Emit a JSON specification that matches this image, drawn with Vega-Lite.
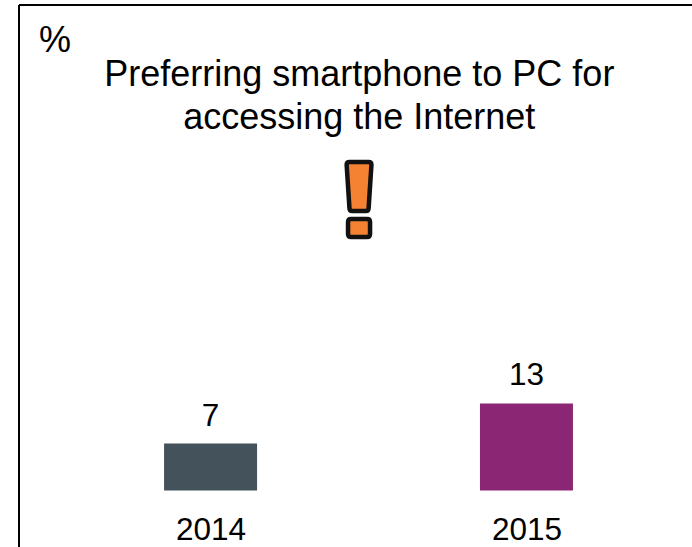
{
  "$schema": "https://vega.github.io/schema/vega-lite/v6.json",
  "width": 673.5,
  "height": 542.5,
  "autosize": "none",
  "padding": {"left": 18.5, "top": 4.5, "right": 0, "bottom": 0},
  "background": "white",
  "config": {
    "view": {"stroke": null},
    "font": "Liberation Sans"
  },
  "title": {
    "text": ["Preferring smartphone to PC for", "accessing the Internet"],
    "font": "Liberation Sans",
    "fontSize": 36,
    "fontWeight": "normal",
    "color": "black",
    "lineHeight": 43,
    "anchor": "middle",
    "dx": 4,
    "baseline": "alphabetic",
    "offset": -160
  },
  "datasets": {
    "share": [
      {"year": 2014, "percent": 7, "color": "#44525C"},
      {"year": 2015, "percent": 13, "color": "#8B2674"}
    ],
    "alert": [{"year": 2014.47, "percent": 43.36}]
  },
  "layer": [
    {
      "data": {"name": "share"},
      "mark": {"type": "bar", "width": 93},
      "encoding": {
        "x": {
          "field": "year",
          "type": "quantitative",
          "scale": {"domain": [2013.392, 2015.524], "nice": false, "zero": false, "padding": 0},
          "axis": {
            "orient": "top",
            "title": null,
            "values": [2014, 2015],
            "format": "d",
            "grid": false,
            "ticks": false,
            "domain": true,
            "domainColor": "black",
            "domainWidth": 2,
            "labelFont": "Liberation Sans",
            "labelFontSize": 31.5,
            "labelColor": "black",
            "labelPadding": -542,
            "labelFlush": false,
            "labelOverlap": false
          }
        },
        "y": {
          "field": "percent",
          "type": "quantitative",
          "scale": {"domain": [-8.43, 72.54], "nice": false, "zero": false},
          "axis": {
            "orient": "left",
            "title": "%",
            "titleFont": "Liberation Sans",
            "titleFontSize": 36,
            "titleFontWeight": "normal",
            "titleColor": "black",
            "titleAngle": 0,
            "titleAlign": "center",
            "titleBaseline": "alphabetic",
            "titleX": 36,
            "titleY": 47,
            "grid": false,
            "ticks": false,
            "labels": false,
            "domain": true,
            "domainColor": "black",
            "domainWidth": 2
          }
        },
        "color": {"field": "color", "type": "nominal", "scale": null}
      }
    },
    {
      "data": {"name": "share"},
      "mark": {
        "type": "text",
        "baseline": "alphabetic",
        "align": "center",
        "fontSize": 31.5,
        "color": "black",
        "dy": -18
      },
      "encoding": {
        "x": {"field": "year", "type": "quantitative"},
        "y": {"field": "percent", "type": "quantitative"},
        "text": {"field": "percent", "type": "quantitative"}
      }
    },
    {
      "data": {"name": "alert"},
      "mark": {
        "type": "point",
        "filled": true,
        "opacity": 1,
        "fill": "#F58233",
        "stroke": "#111111",
        "strokeWidth": 4.5,
        "strokeJoin": "round",
        "size": 6400,
        "shape": "M-0.24,-0.95 L0.24,-0.95 Q0.31,-0.95 0.31,-0.88 L0.24,0.2 Q0.24,0.275 0.17,0.275 L-0.17,0.275 Q-0.24,0.275 -0.24,0.2 L-0.31,-0.88 Q-0.31,-0.95 -0.24,-0.95 Z M-0.2,0.475 L0.2,0.475 Q0.275,0.475 0.275,0.55 L0.275,0.85 Q0.275,0.925 0.2,0.925 L-0.2,0.925 Q-0.275,0.925 -0.275,0.85 L-0.275,0.55 Q-0.275,0.475 -0.2,0.475 Z"
      },
      "encoding": {
        "x": {"field": "year", "type": "quantitative"},
        "y": {"field": "percent", "type": "quantitative"}
      }
    }
  ]
}
